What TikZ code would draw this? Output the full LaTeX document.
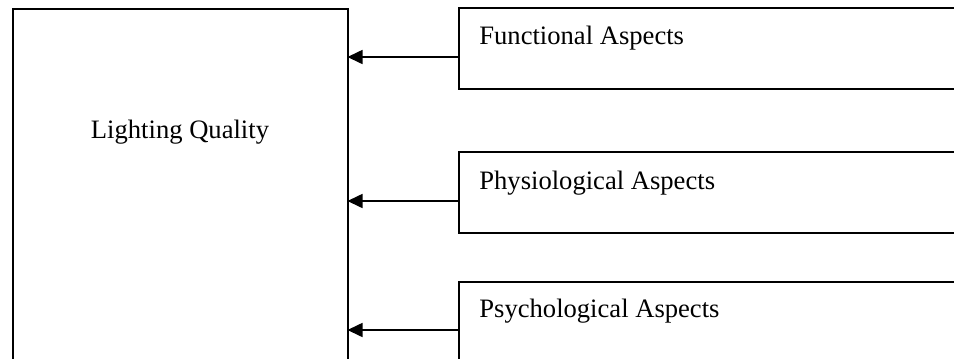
\documentclass[tikz,border=0pt]{standalone}
\usepackage{fontspec}
\setmainfont{Liberation Serif}
\usetikzlibrary{positioning, arrows.meta}

\tikzset{
  qualitybox/.style={draw, line width=1pt, anchor=north west, outer sep=0pt, inner sep=0pt,
    minimum width=167.5pt, minimum height=186pt},
  aspectbox/.style={draw, line width=1pt, anchor=north west, outer sep=0pt, inner sep=0pt,
    minimum width=270pt, minimum height=40.25pt},
  boxtext/.style={inner sep=0pt, font=\fontsize{13.3pt}{16pt}\selectfont},
  feedarrow/.style={-{Triangle[length=7.5pt,width=7pt]}, line width=0.8pt}
}

\begin{document}
\begin{tikzpicture}[x=0.5pt, y=-0.5pt]
  \useasboundingbox (0,0) rectangle (954,359);
  \clip (0,0) rectangle (954,359);

  % Main box
  \node[qualitybox] (quality) at (12.5,8.5) {};
  \node[boxtext, anchor=base] (qualitytext) at (180,138) {Lighting Quality};

  % Aspect boxes
  \node[aspectbox] (func) at (459,8) {};
  \node[aspectbox] (phys) at (459,152) {};
  \node[aspectbox] (psych) at (459,282) {};

  \node[boxtext, anchor=base west] (functext) at (479,44) {Functional Aspects};
  \node[boxtext, anchor=base west] (phystext) at (479,189) {Physiological Aspects};
  \node[boxtext, anchor=base west] (psychtext) at (479,317) {Psychological Aspects};

  % Arrows into the main box
  \foreach \name/\ya in {func/57, phys/201, psych/330} {
    \draw[feedarrow] (\name.west |- 0,\ya) -- (quality.east |- 0,\ya);
  }
\end{tikzpicture}
\end{document}
